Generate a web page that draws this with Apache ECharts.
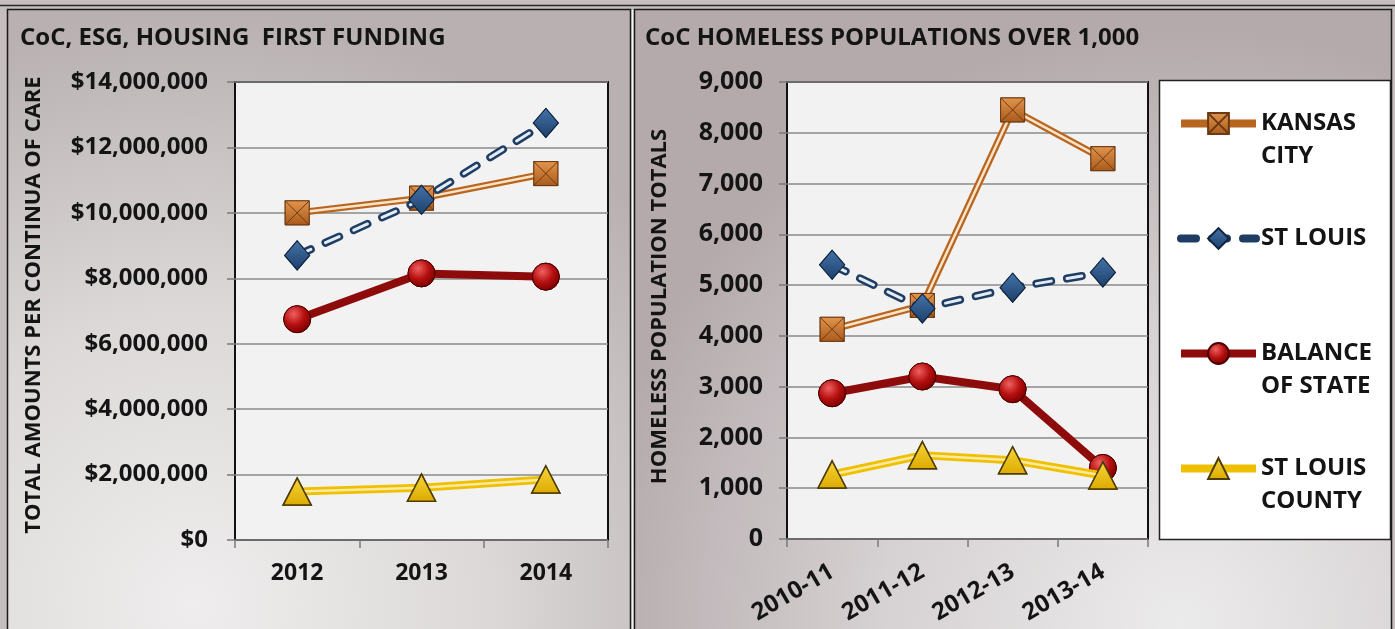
<!DOCTYPE html>
<html>
<head>
<meta charset="utf-8">
<script src="https://cdn.jsdelivr.net/npm/echarts@6/dist/echarts.min.js"></script>
<style>
  html, body { margin: 0; padding: 0; background: #c5bdbe; }
  #chart { width: 1395px; height: 629px; }
</style>
</head>
<body>
<div id="chart"></div>
<script>
// ---- Funding by continuum of care (left panel) ----
const fundingYears = ['2012', '2013', '2014'];
const fundingKansasCity = [10000000, 10450000, 11200000];
const fundingStLouis = [8700000, 10400000, 12750000];
const fundingBalance = [6750000, 8150000, 8050000];
const fundingStLouisCounty = [1480000, 1600000, 1850000];
const fundingTicks = { min: 0, max: 14000000, step: 2000000 };

// ---- Homeless population totals (right panel) ----
const popYears = ['2010-11', '2011-12', '2012-13', '2013-14'];
const popKansasCity = [4130, 4600, 8450, 7490];
const popStLouis = [5400, 4540, 4950, 5250];
const popBalance = [2870, 3200, 2950, 1400];
const popStLouisCounty = [1270, 1650, 1550, 1250];
const popTicks = { min: 0, max: 9000, step: 1000 };

const seriesNames = ['KANSAS CITY', 'ST LOUIS', 'BALANCE OF STATE', 'ST LOUIS COUNTY'];
const legendLabels = {
  'KANSAS CITY': ['KANSAS', 'CITY'],
  'ST LOUIS': ['ST LOUIS'],
  'BALANCE OF STATE': ['BALANCE', 'OF STATE'],
  'ST LOUIS COUNTY': ['ST LOUIS', 'COUNTY']
};

const FONT = '"Open Sans", "DejaVu Sans", sans-serif';
const INK = '#141414';

// Square marker with a crossed face
const crossedSquare = 'path://M0,0 L20,0 L20,20 L0,20 Z M0,0 L20,20 M20,0 L0,20';

function vGrad(top, bottom) {
  return { type: 'linear', x: 0, y: 0, x2: 0, y2: 1,
    colorStops: [{ offset: 0, color: top }, { offset: 1, color: bottom }] };
}
function rGrad(inner, mid, outer) {
  return { type: 'radial', x: 0.38, y: 0.32, r: 0.7,
    colorStops: [{ offset: 0, color: inner }, { offset: 0.55, color: mid }, { offset: 1, color: outer }] };
}

const styles = {
  'KANSAS CITY': {
    outer: { color: '#b8661f', width: 7 },
    inner: { color: '#fbe3c8', width: 2.5 },
    symbol: crossedSquare, symbolSize: 24,
    item: { color: vGrad('#e3954d', '#a9591b'), borderColor: '#6b3a12', borderWidth: 1 }
  },
  'ST LOUIS': {
    outer: { color: '#1f3d63', width: 8, type: [15, 16], cap: 'round' },
    inner: { color: '#e3ebf5', width: 3, type: [15, 16], cap: 'round' },
    symbol: 'diamond', symbolSize: [25, 29],
    item: { color: vGrad('#4474a8', '#1c3f6b'), borderColor: '#10243f', borderWidth: 1 }
  },
  'BALANCE OF STATE': {
    outer: { color: '#8e0b0b', width: 8 },
    inner: null,
    symbol: 'circle', symbolSize: 27,
    item: { color: rGrad('#f06060', '#b50f0f', '#7a0000'), borderColor: '#4a0000', borderWidth: 1 }
  },
  'ST LOUIS COUNTY': {
    outer: { color: '#efc000', width: 8 },
    inner: { color: '#fde9a0', width: 2.5 },
    symbol: 'triangle', symbolSize: [28, 27],
    item: { color: vGrad('#f7d53a', '#dcaa00'), borderColor: '#4d3d00', borderWidth: 1.5 }
  }
};

// Each line is drawn as an outer stroke, an optional lighter inner stroke,
// and the markers on top, so the markers sit above both strokes.
function buildSeries(name, data, axisIndex, zBase) {
  const s = styles[name];
  const out = [];
  out.push({
    name, type: 'line', data, xAxisIndex: axisIndex, yAxisIndex: axisIndex,
    z: zBase, symbol: s.symbol, symbolSize: s.symbolSize,
    showAllSymbol: true, lineStyle: s.outer, itemStyle: s.item, animation: false
  });
  if (s.inner) {
    out.push({
      name, type: 'line', data, xAxisIndex: axisIndex, yAxisIndex: axisIndex,
      z: zBase + 1, symbol: 'none', lineStyle: s.inner, animation: false
    });
  }
  out.push({
    name, type: 'line', data, xAxisIndex: axisIndex, yAxisIndex: axisIndex,
    z: zBase + 2, symbol: s.symbol, symbolSize: s.symbolSize,
    lineStyle: { width: 0, opacity: 0 }, itemStyle: s.item, animation: false
  });
  return out;
}

const fundingData = [fundingKansasCity, fundingStLouis, fundingBalance, fundingStLouisCounty];
const popData = [popKansasCity, popStLouis, popBalance, popStLouisCounty];

const series = [];
seriesNames.forEach((n, i) => { series.push(...buildSeries(n, fundingData[i], 0, 2 + i * 3)); });
seriesNames.forEach((n, i) => { series.push(...buildSeries(n, popData[i], 1, 2 + i * 3)); });

const labelStyle = { color: INK, fontFamily: FONT, fontWeight: 'bold', fontSize: 24 };
const splitLineStyle = { show: true, lineStyle: { color: '#8a8a8a', width: 1.5 } };
const tickStyle = { show: true, length: 8, lineStyle: { color: '#7a7a7a', width: 1.5 } };

const option = {
  animation: false,
  backgroundColor: '#c5bdbe',
  textStyle: { fontFamily: FONT },
  grid: [
    { left: 235, top: 82, width: 373, height: 458, show: true, outerBoundsMode: 'none',
      backgroundColor: '#f2f2f2', borderColor: '#111', borderWidth: 2 },
    { left: 787, top: 82, width: 361, height: 457, show: true, outerBoundsMode: 'none',
      backgroundColor: '#f2f2f2', borderColor: '#111', borderWidth: 2 }
  ],
  xAxis: [
    { type: 'category', gridIndex: 0, data: fundingYears, boundaryGap: true,
      axisLine: { show: false }, axisTick: tickStyle,
      axisLabel: Object.assign({}, labelStyle, { fontSize: 23, margin: 22 }) },
    { type: 'category', gridIndex: 1, data: popYears, boundaryGap: true,
      axisLine: { show: false }, axisTick: tickStyle,
      axisLabel: Object.assign({}, labelStyle, { fontSize: 24, margin: 31, rotate: 30, interval: 0 }) }
  ],
  yAxis: [
    { type: 'value', gridIndex: 0, min: fundingTicks.min, max: fundingTicks.max, interval: fundingTicks.step,
      axisLine: { show: false }, axisTick: tickStyle, splitLine: splitLineStyle,
      axisLabel: Object.assign({}, labelStyle, { margin: 27,
        formatter: v => '$' + v.toLocaleString('en-US') }),
      name: 'TOTAL AMOUNTS PER CONTINUA OF CARE', nameLocation: 'middle', nameGap: 190,
      nameTextStyle: { color: INK, fontFamily: FONT, fontWeight: 'bold', fontSize: 22, padding: [0, 0, 0, 12] } },
    { type: 'value', gridIndex: 1, min: popTicks.min, max: popTicks.max, interval: popTicks.step,
      axisLine: { show: false }, axisTick: tickStyle, splitLine: splitLineStyle,
      axisLabel: Object.assign({}, labelStyle, { fontSize: 25, margin: 24,
        formatter: v => v.toLocaleString('en-US') }),
      name: 'HOMELESS POPULATION TOTALS', nameLocation: 'middle', nameGap: 116,
      nameTextStyle: { color: INK, fontFamily: FONT, fontWeight: 'bold', fontSize: 22, padding: [0, 0, 0, 8] } }
  ],
  legend: {
    data: seriesNames.map(n => ({ name: n, lineStyle: { width: 8 } })),
    orient: 'vertical',
    left: 1177, top: 74, padding: 0,
    itemWidth: 75, itemHeight: 26, itemGap: 16,
    selectedMode: false,
    textStyle: { color: INK, fontFamily: FONT, fontWeight: 'bold', fontSize: 24, lineHeight: 33 },
    formatter: name => {
      const lines = legendLabels[name];
      // the marker lines up with the first text line
      return '\u00a0\n' + lines[0] + '\n' + (lines[1] || '\u00a0');
    }
  },
  graphic: [
    // frame strip along the top
    { type: 'rect', z: -20, shape: { x: 0, y: 0, width: 1395, height: 629 }, style: { fill: '#c5bdbe' } },
    { type: 'line', z: -19, shape: { x1: 0, y1: 5.5, x2: 1395, y2: 5.5 }, style: { stroke: '#2a2a2a', lineWidth: 1.5 } },
    // left panel
    { type: 'rect', z: -18, shape: { x: 7.5, y: 9.5, width: 623, height: 625 },
      style: { fill: { type: 'radial', x: 0.3, y: 0.95, r: 0.95,
        colorStops: [{ offset: 0, color: '#efeded' }, { offset: 0.5, color: '#dcd8d8' }, { offset: 1, color: '#b8b0b1' }] },
        stroke: '#1a1a1a', lineWidth: 1.5 } },
    // right panel
    { type: 'rect', z: -18, shape: { x: 634.5, y: 9.5, width: 757, height: 625 },
      style: { fill: { type: 'radial', x: 0.72, y: 0.98, r: 0.95,
        colorStops: [{ offset: 0, color: '#ecebeb' }, { offset: 0.5, color: '#d6d1d2' }, { offset: 1, color: '#b4aaac' }] },
        stroke: '#1a1a1a', lineWidth: 1.5 } },
    { type: 'line', z: -17, shape: { x1: 632.5, y1: 10, x2: 632.5, y2: 629 }, style: { stroke: '#f4f4f4', lineWidth: 1.5 } },
    // panel titles
    { type: 'text', z: 5, x: 20, y: 38,
      style: { text: 'CoC, ESG, HOUSING  FIRST FUNDING', fill: INK, font: 'bold 24px ' + FONT, verticalAlign: 'middle' } },
    { type: 'text', z: 5, x: 645, y: 38,
      style: { text: 'CoC HOMELESS POPULATIONS OVER 1,000', fill: INK, font: 'bold 24px ' + FONT, verticalAlign: 'middle' } },
    // legend box
    { type: 'rect', z: 1, shape: { x: 1159.5, y: 80.5, width: 231, height: 459 },
      style: { fill: '#ffffff', stroke: '#222', lineWidth: 1.5 } }
  ],
  series
};

const chart = echarts.init(document.getElementById('chart'), null, { renderer: 'canvas' });
chart.setOption(option);
</script>
</body>
</html>
